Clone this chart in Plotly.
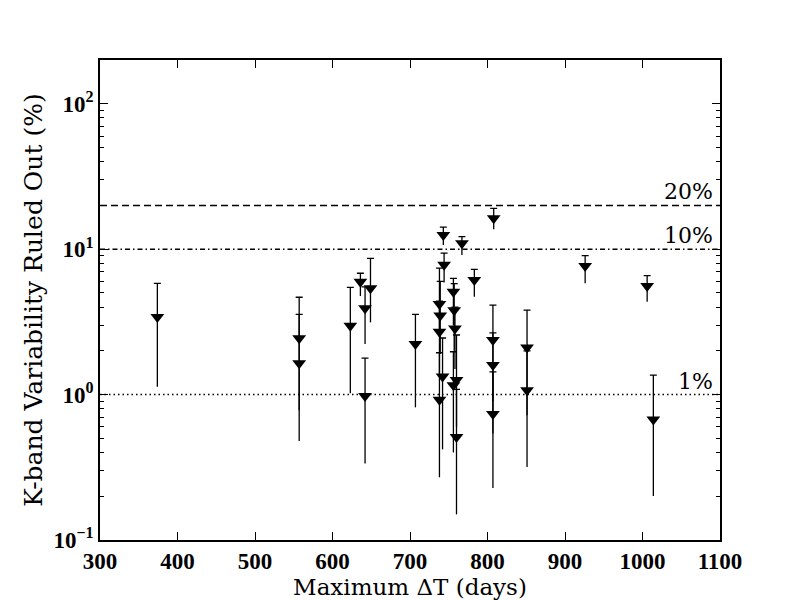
import math
import plotly.graph_objects as go

# Maximum Delta T (days) for each source
delta_t = [374, 557, 557, 623, 636, 642, 642, 649, 707,
           743, 744, 738, 739, 738, 742, 738,
           756, 757, 758, 756, 760, 760, 767, 783,
           808, 807, 807, 807, 851, 851, 926, 1006, 1014]
# K-band variability ruled out (%)
var_pct = [3.41, 2.44, 1.64, 2.98, 5.97, 3.92, 0.976, 5.38, 2.23,
           12.5, 7.8, 4.2, 3.5, 2.7, 1.33, 0.92,
           5.1, 3.8, 2.85, 1.16, 1.26, 0.51, 10.97, 6.14,
           16.3, 2.37, 1.6, 0.734, 2.11, 1.07, 7.66, 5.58, 0.675]
# upper end of error bar (%)
upper_pct = [5.82, 4.67, 3.56, 5.47, 6.83, 5.5, 1.78, 8.65, 3.56,
             14.2, 9.4, 7.4, 6.0, 4.4, 2.45, 1.94,
             6.3, 5.8, 4.0, 1.97, 2.57, 1.085, 12.2, 7.26,
             19.1, 4.13, 2.66, 1.435, 3.81, 2.0, 9.02, 6.57, 1.36]
# lower end of error bar (%)
lower_pct = [1.13, 0.78, 0.48, 1.02, 4.76, 2.23, 0.336, 3.14, 0.817,
             10.7, 5.9, 2.5, 1.9, 1.4, 0.42, 0.27,
             3.0, 2.0, 1.5, 0.40, 0.6, 0.15, 9.12, 4.71,
             13.7, 0.9, 0.54, 0.228, 0.72, 0.318, 5.83, 4.35, 0.201]

threshold_levels = [20, 10, 1]
threshold_labels = ["20%", "10%", "1%"]
threshold_dashes = ["7px,4px", "5px,3px,1.5px,3px", "1.5px,3px"]

x_ticks = [300, 400, 500, 600, 700, 800, 900, 1000, 1100]
y_ticks = [0.1, 1, 10, 100]
y_ticktext = ["10<sup>−1</sup>", "10<sup>0</sup>", "10<sup>1</sup>", "10<sup>2</sup>"]
y_minor_ticks = [0.2, 0.3, 0.4, 0.5, 0.6, 0.7, 0.8, 0.9,
                 2, 3, 4, 5, 6, 7, 8, 9,
                 20, 30, 40, 50, 60, 70, 80, 90, 200]

err_up = [u - v for u, v in zip(upper_pct, var_pct)]
err_dn = [v - l for v, l in zip(var_pct, lower_pct)]
zeros = [0] * len(var_pct)

fig = go.Figure()
# upper error bars with caps
fig.add_trace(go.Scatter(
    x=delta_t, y=var_pct, mode="markers",
    marker=dict(size=1, color="rgba(0,0,0,0)"),
    error_y=dict(type="data", symmetric=False, array=err_up, arrayminus=zeros,
                 color="black", thickness=1.3, width=3.5),
    showlegend=False, hoverinfo="skip"))
# lower error bars, no caps, plus markers
fig.add_trace(go.Scatter(
    x=delta_t, y=var_pct, mode="markers",
    marker=dict(symbol="triangle-down", size=12, color="black",
                line=dict(width=0)),
    error_y=dict(type="data", symmetric=False, array=zeros, arrayminus=err_dn,
                 color="black", thickness=1.3, width=0),
    showlegend=False))

for lvl, lab, dsh in zip(threshold_levels, threshold_labels, threshold_dashes):
    fig.add_shape(type="line", xref="x domain", yref="y", x0=0, x1=1, y0=lvl, y1=lvl,
                  line=dict(color="black", width=1.5, dash=dsh), layer="below")
    fig.add_annotation(xref="x domain", yref="y", x=0.992, y=math.log10(lvl), text=lab,
                       showarrow=False, xanchor="right", yanchor="bottom", yshift=-1,
                       font=dict(family="DejaVu Serif", size=22, color="black"))

axis_common = dict(showline=True, linecolor="black", linewidth=1.5, mirror="allticks",
                   ticks="inside", ticklen=8, tickwidth=1.2, tickcolor="black",
                   showgrid=False, zeroline=False, automargin=False,
                   tickfont=dict(family="Liberation Serif", size=23, color="black", weight="bold"))

fig.update_layout(
    width=800, height=600,
    margin=dict(l=92, r=88, t=52, b=68),
    paper_bgcolor="white", plot_bgcolor="white",
    xaxis=dict(range=[300, 1100], tickvals=x_ticks,
               title=dict(text="Maximum ΔT (days)", standoff=1,
                          font=dict(family="DejaVu Serif", size=23, color="black")),
               **axis_common),
    yaxis=dict(type="log", range=[-1, 2.30103], tickvals=y_ticks, ticktext=y_ticktext,
               minor=dict(tickmode="array", tickvals=y_minor_ticks, ticks="inside",
                          ticklen=4, tickwidth=1, tickcolor="black", showgrid=False),
               title=dict(text="K-band Variability Ruled Out (%)", standoff=4,
                          font=dict(family="DejaVu Serif", size=25, color="black")),
               **axis_common),
)

fig.write_html("out.html")
